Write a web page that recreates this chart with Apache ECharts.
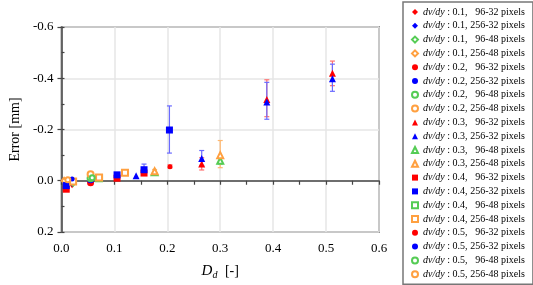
<!DOCTYPE html>
<html><head><meta charset="utf-8">
<script src="https://cdn.jsdelivr.net/npm/echarts@6/dist/echarts.min.js"></script>
<style>html,body{margin:0;padding:0;background:#fff}#c{width:533px;height:285px}</style>
</head><body><div id="c"></div>
<script>
// Tick labels
const xTicks = [0.0, 0.1, 0.2, 0.3, 0.4, 0.5, 0.6];
const yTicks = [-0.6, -0.4, -0.2, 0.0, 0.2];
const dvdyLevels = ['0.1', '0.2', '0.3', '0.4', '0.5'];
const windowConfigs = ['96-32', '256-32', '96-48', '256-48'];

// Data: [Dd, error, errLow, errHigh]  (null = no error bar)
const d01_96_32  = [[0.020, 0.016, null, null]];
const d01_256_32 = [[0.020, 0.010, null, null]];
const d01_96_48  = [[0.022, 0.008, null, null]];
const d01_256_48 = [[0.005, 0.000, null, null]];
const d02_96_32  = [[0.055, 0.008, null, null]];
const d02_256_32 = [[0.055, -0.004, null, null]];
const d02_96_48  = [[0.055, -0.010, null, null]];
const d02_256_48 = [[0.055, -0.025, -0.032, -0.018]];
const d03_96_32  = [[0.265, -0.065, -0.090, -0.042], [0.388, -0.317, -0.394, -0.250], [0.512, -0.420, -0.467, -0.371]];
const d03_256_32 = [[0.141, -0.020, null, null], [0.265, -0.087, -0.118, -0.060], [0.388, -0.307, -0.384, -0.240], [0.512, -0.398, -0.455, -0.349]];
const d03_96_48  = [[0.176, -0.033, null, null], [0.300, -0.078, -0.092, -0.064]];
const d03_256_48 = [[0.176, -0.037, -0.044, -0.030], [0.300, -0.100, -0.157, -0.051]];
const d04_96_32  = [[0.009, 0.033, null, null], [0.105, -0.010, null, null], [0.156, -0.030, null, null]];
const d04_256_32 = [[0.009, 0.019, null, null], [0.105, -0.023, null, null], [0.156, -0.043, -0.065, -0.030], [0.204, -0.198, -0.292, -0.108]];
const d04_96_48  = [[0.071, -0.010, null, null]];
const d04_256_48 = [[0.071, -0.013, null, null], [0.120, -0.031, null, null], [0.022, 0.003, null, null]];
const d05_96_32  = [[0.205, -0.055, -0.062, -0.050]];
const d05_256_32 = [[0.020, -0.007, null, null]];
const d05_96_48  = [[0.058, -0.012, null, null]];
const d05_256_48 = [[0.012, -0.004, null, null]];

const seriesData = [
  [d01_96_32, d01_256_32, d01_96_48, d01_256_48],
  [d02_96_32, d02_256_32, d02_96_48, d02_256_48],
  [d03_96_32, d03_256_32, d03_96_48, d03_256_48],
  [d04_96_32, d04_256_32, d04_96_48, d04_256_48],
  [d05_96_32, d05_256_32, d05_96_48, d05_256_48]
];

const colors = ['#ff0000', '#0000ff', '#55cc55', '#ffa040'];
const barColors = ['#ff7070', '#6a6aff', '#88dd88', '#ffb870'];
const symbolsFilled = ['diamond', 'circle', 'triangle', 'rect', 'circle'];
const symbolsEmpty = ['emptyDiamond', 'emptyCircle', 'emptyTriangle', 'emptyRect', 'emptyCircle'];
const symSizes = [[5, 7], 7, 7, 7, 5];
const symSizesEmpty = [[5, 6], 6, 6, 6, 5];

const series = [];
const legendNames = [];
const errSeries = [];
dvdyLevels.forEach((lv, i) => {
  windowConfigs.forEach((cfg, j) => {
    const name = 'dv/dy : ' + lv + ', ' + cfg + ' pixels';
    legendNames.push(name);
    const data = seriesData[i][j];
    errSeries.push({
      type: 'custom', name: name + ' err', silent: true, z: 1,
      data: data.filter(d => d[2] !== null),
      renderItem: (params, api) => {
        const x = api.value(0);
        const p1 = api.coord([x, api.value(2)]);
        const p2 = api.coord([x, api.value(3)]);
        const st = { stroke: barColors[j], lineWidth: 1.2 };
        return { type: 'group', children: [
          { type: 'line', shape: { x1: p1[0], y1: p1[1], x2: p2[0], y2: p2[1] }, style: st },
          { type: 'line', shape: { x1: p1[0] - 2.5, y1: p1[1], x2: p1[0] + 2.5, y2: p1[1] }, style: st },
          { type: 'line', shape: { x1: p2[0] - 2.5, y1: p2[1], x2: p2[0] + 2.5, y2: p2[1] }, style: st }
        ]};
      },
      encode: { x: 0, y: 1 }
    });
    series.push({
      type: 'scatter', name: name, z: 3,
      symbol: j < 2 ? symbolsFilled[i] : symbolsEmpty[i],
      symbolSize: j < 2 ? symSizes[i] : symSizesEmpty[i],
      itemStyle: { color: colors[j], borderColor: colors[j], borderWidth: j < 2 ? 0 : 1, opacity: 1 },
      data: data.map(d => [d[0], d[1]])
    });
  });
});

const chart = echarts.init(document.getElementById('c'), null, { renderer: 'canvas' });
const font = 'Liberation Serif';
chart.setOption({
  animation: false,
  backgroundColor: '#fff',
  textStyle: { fontFamily: font },
  grid: { left: 50, right: 154, top: 27, bottom: 50.5, show: true, borderColor: '#444', borderWidth: 1.5, backgroundColor: 'transparent' },
  xAxis: {
    type: 'value', min: 0, max: 0.6, interval: 0.1,
    name: '{i|D}{s|d}{n| [-]}', nameLocation: 'middle', nameGap: 30,
    nameTextStyle: { rich: {
      i: { fontFamily: font, fontStyle: 'italic', fontSize: 15, color: '#000' },
      s: { fontFamily: font, fontStyle: 'italic', fontSize: 10, color: '#000', padding: [8, 4, 0, 0] },
      n: { fontFamily: font, fontSize: 14, color: '#000' }
    }},
    axisLine: { show: true, lineStyle: { color: '#444', width: 1.5 } },
    axisTick: { show: true, length: 4, lineStyle: { color: '#444', width: 1.2 } },
    minorTick: { show: true, splitNumber: 2, length: 4, lineStyle: { color: '#444', width: 1.2 } },
    axisLabel: { color: '#000', fontFamily: font, fontSize: 13, margin: 10, formatter: v => v.toFixed(1) },
    splitLine: { show: true, lineStyle: { color: '#e6e6e6', width: 1.5 } }
  },
  yAxis: [{
    type: 'value', min: -0.6, max: 0.2, interval: 0.2, inverse: true,
    name: 'Error [mm]', nameLocation: 'middle', nameGap: 38,
    nameTextStyle: { color: '#000', fontFamily: font, fontSize: 14 },
    axisLine: { show: true, lineStyle: { color: '#444', width: 1.5 } },
    axisTick: { show: true, length: 4, lineStyle: { color: '#444', width: 1.2 } },
    axisLabel: { color: '#000', fontFamily: font, fontSize: 13, margin: 8, formatter: v => (Math.abs(v) < 1e-9 ? '0.0' : v.toFixed(1)) },
    splitLine: { show: true, lineStyle: { color: '#e6e6e6', width: 1.5 } }
  }, {
    type: 'value', min: -0.6, max: 0.2, interval: 0.1, inverse: true, position: 'left',
    axisLine: { show: false }, axisLabel: { show: false }, splitLine: { show: false },
    axisTick: { show: true, inside: true, length: 3, lineStyle: { color: '#444', width: 1.2 } }
  }],
  legend: {
    orient: 'vertical', left: 403, top: 2, padding: [5, 8, 5, 8],
    borderColor: '#777', borderWidth: 1.5, backgroundColor: '#fff',
    itemWidth: 6, itemHeight: 6, itemGap: 3.8, data: legendNames,
    textStyle: { fontFamily: font, fontSize: 10, color: '#000',
      rich: {
        i: { fontFamily: font, fontStyle: 'italic', fontSize: 10, color: '#000' },
        n: { fontFamily: font, fontSize: 10, color: '#000' },
        c: { fontFamily: font, fontSize: 10, color: '#000', width: 55, align: 'right' }
      } },
    formatter: name => {
      const m = name.match(/^dv\/dy : ([0-9.]+), (.*)$/);
      return '{i|dv/dy}{n| : ' + m[1] + ', }{c|' + m[2] + '}';
    }
  },
  series: errSeries.concat(series)
});
</script></body></html>
